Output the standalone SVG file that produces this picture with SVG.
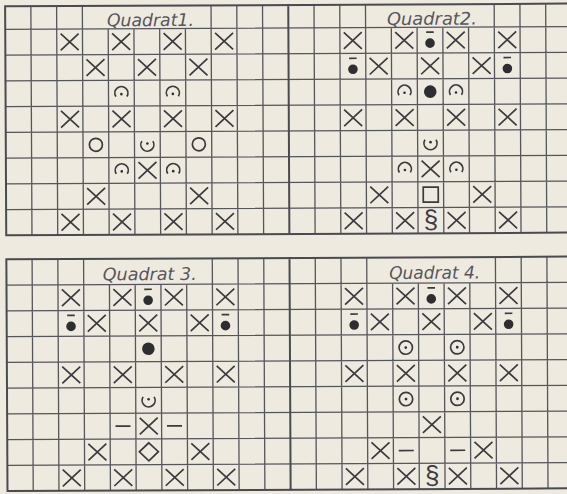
<svg xmlns="http://www.w3.org/2000/svg" width="567" height="494" viewBox="0 0 567 494">
<style>
.grid{fill:none;stroke:#55555c;stroke-width:1.3}
.bord{fill:none;stroke:#4a4a51;stroke-width:2}
.sym{fill:none;stroke:#3a3a3f;stroke-width:1.7;stroke-linecap:butt}
.fill{fill:#2e2e32;stroke:none}
.title{font-family:"Liberation Sans Narrow","DejaVu Sans Condensed","Liberation Sans",sans-serif;font-style:italic;font-size:17.5px;fill:#56565c}
.para{font-family:"Liberation Sans Narrow","Liberation Sans","DejaVu Sans",sans-serif;font-size:26px;fill:#3a3a3f;text-anchor:middle}
</style>
<defs>
<path id="x" class="sym" d="M-9,-8.3L9,8.3M-9,8.3L9,-8.3"/>
<g id="arc"><path class="sym" stroke-width="1.4" d="M-5.5,3.4A6.5,6.5 0 1 1 5.5,3.4"/><circle class="fill" cx="0" cy="1" r="1.3"/></g>
<g id="cup"><path class="sym" stroke-width="1.4" d="M-5.5,-3.4A6.5,6.5 0 1 0 5.5,-3.4"/><circle class="fill" cx="0" cy="-1" r="1.3"/></g>
<circle id="ring" class="sym" stroke-width="1.5" cx="0" cy="0" r="6.5"/>
<g id="odot"><circle class="sym" stroke-width="1.5" cx="0" cy="0" r="6.7"/><circle class="fill" cx="0" cy="0" r="1.4"/></g>
<g id="bardot"><path class="sym" stroke-width="1.8" d="M-3.8,-8H3.8"/><circle class="fill" cx="0" cy="3" r="4.8"/></g>
<circle id="bigdot" class="fill" cx="0" cy="0" r="6.3"/>
<rect id="square" class="sym" x="-7.5" y="-7.5" width="15" height="15"/>
<path id="diamond" class="sym" d="M0,-9L9.5,0L0,9L-9.5,0Z"/>
<path id="dash" class="sym" stroke-width="1.8" d="M-7.5,0H7.5"/>
</defs>
<rect width="567" height="494" fill="#eeeadf"/>
<g transform="rotate(-0.28 283 247)">
<g id="grid">
<path class="grid" d="M6.3 28H580M6.3 53.75H580M6.3 79.5H580M6.3 105.25H580M6.3 131H580M6.3 156.75H580M6.3 182.5H580M6.3 208.25H580
M6.3 283.75H580M6.3 309.5H580M6.3 335.25H580M6.3 361H580M6.3 386.75H580M6.3 412.5H580M6.3 438.25H580M6.3 464H580
M32.04 5V234M57.78 5V234M83.52 5V234M212.22 5V234M237.96 5V234M263.7 5V234M315.18 5V234M340.92 5V234M366.66 5V234M495.36 5V234M521.1 5V234M546.84 5V234
M109.26 28V234M135 28V234M160.74 28V234M186.48 28V234M392.4 28V234M418.14 28V234M443.88 28V234M469.62 28V234
M32.04 258V489.75M57.78 258V489.75M83.52 258V489.75M212.22 258V489.75M237.96 258V489.75M263.7 258V489.75M315.18 258V489.75M340.92 258V489.75M366.66 258V489.75M495.36 258V489.75M521.1 258V489.75M546.84 258V489.75
M109.26 283.75V489.75M135 283.75V489.75M160.74 283.75V489.75M186.48 283.75V489.75M392.4 283.75V489.75M418.14 283.75V489.75M443.88 283.75V489.75M469.62 283.75V489.75"/>
<path class="bord" d="M6.3 5H580M6.3 234H580M6.3 258H580M6.3 489.75H580M6.3 4V235M289.44 4V235M6.3 257V490.75M289.44 257V490.75"/>
</g>
<g id="quadrat1">
<text class="title" x="108" y="25.5" textLength="87" lengthAdjust="spacingAndGlyphs">Quadrat1.</text>
<use href="#x" x="70.65" y="40.875"/><use href="#x" x="122.13" y="40.875"/><use href="#x" x="173.61" y="40.875"/><use href="#x" x="225.09" y="40.875"/>
<use href="#x" x="96.39" y="66.625"/><use href="#x" x="147.87" y="66.625"/><use href="#x" x="199.35" y="66.625"/>
<use href="#arc" x="122.13" y="92.375"/><use href="#arc" x="173.61" y="92.375"/>
<use href="#x" x="70.65" y="118.125"/><use href="#x" x="122.13" y="118.125"/><use href="#x" x="173.61" y="118.125"/><use href="#x" x="225.09" y="118.125"/>
<use href="#ring" x="96.39" y="143.875"/><use href="#cup" x="147.87" y="143.875"/><use href="#ring" x="199.35" y="143.875"/>
<use href="#arc" x="122.13" y="169.625"/><use href="#x" x="147.87" y="169.625"/><use href="#arc" x="173.61" y="169.625"/>
<use href="#x" x="96.39" y="195.375"/><use href="#x" x="199.35" y="195.375"/>
<use href="#x" x="70.65" y="221.125"/><use href="#x" x="122.13" y="221.125"/><use href="#x" x="173.61" y="221.125"/><use href="#x" x="225.09" y="221.125"/>
</g>
<g id="quadrat2">
<text class="title" x="388" y="25.5" textLength="90" lengthAdjust="spacingAndGlyphs">Quadrat2.</text>
<use href="#x" x="353.79" y="40.875"/><use href="#x" x="405.27" y="40.875"/><use href="#bardot" x="431.01" y="40.875"/><use href="#x" x="456.75" y="40.875"/><use href="#x" x="508.23" y="40.875"/>
<use href="#bardot" x="353.79" y="66.625"/><use href="#x" x="379.53" y="66.625"/><use href="#x" x="431.01" y="66.625"/><use href="#x" x="482.49" y="66.625"/><use href="#bardot" x="508.23" y="66.625"/>
<use href="#arc" x="405.27" y="92.375"/><use href="#bigdot" x="431.01" y="92.375"/><use href="#arc" x="456.75" y="92.375"/>
<use href="#x" x="353.79" y="118.125"/><use href="#x" x="405.27" y="118.125"/><use href="#x" x="456.75" y="118.125"/><use href="#x" x="508.23" y="118.125"/>
<use href="#cup" x="431.01" y="143.875"/>
<use href="#arc" x="405.27" y="169.625"/><use href="#x" x="431.01" y="169.625"/><use href="#arc" x="456.75" y="169.625"/>
<use href="#x" x="379.53" y="195.375"/><use href="#square" x="431.01" y="195.375"/><use href="#x" x="482.49" y="195.375"/>
<use href="#x" x="353.79" y="221.125"/><use href="#x" x="405.27" y="221.125"/><text class="para" x="431.01" y="229">§</text><use href="#x" x="456.75" y="221.125"/><use href="#x" x="508.23" y="221.125"/>
</g>
<g id="quadrat3">
<text class="title" x="102.6" y="279.5" textLength="94" lengthAdjust="spacingAndGlyphs">Quadrat 3.</text>
<use href="#x" x="70.65" y="296.625"/><use href="#x" x="122.13" y="296.625"/><use href="#bardot" x="147.87" y="296.625"/><use href="#x" x="173.61" y="296.625"/><use href="#x" x="225.09" y="296.625"/>
<use href="#bardot" x="70.65" y="322.375"/><use href="#x" x="96.39" y="322.375"/><use href="#x" x="147.87" y="322.375"/><use href="#x" x="199.35" y="322.375"/><use href="#bardot" x="225.09" y="322.375"/>
<use href="#bigdot" x="147.87" y="348.125"/>
<use href="#x" x="70.65" y="373.875"/><use href="#x" x="122.13" y="373.875"/><use href="#x" x="173.61" y="373.875"/><use href="#x" x="225.09" y="373.875"/>
<use href="#cup" x="147.87" y="399.625"/>
<use href="#dash" x="122.13" y="425.375"/><use href="#x" x="147.87" y="425.375"/><use href="#dash" x="173.61" y="425.375"/>
<use href="#x" x="96.39" y="451.125"/><use href="#diamond" x="147.87" y="451.125"/><use href="#x" x="199.35" y="451.125"/>
<use href="#x" x="70.65" y="476.875"/><use href="#x" x="122.13" y="476.875"/><use href="#x" x="173.61" y="476.875"/><use href="#x" x="225.09" y="476.875"/>
</g>
<g id="quadrat4">
<text class="title" x="389" y="279.5" textLength="91" lengthAdjust="spacingAndGlyphs">Quadrat 4.</text>
<use href="#x" x="353.79" y="296.625"/><use href="#x" x="405.27" y="296.625"/><use href="#bardot" x="431.01" y="296.625"/><use href="#x" x="456.75" y="296.625"/><use href="#x" x="508.23" y="296.625"/>
<use href="#bardot" x="353.79" y="322.375"/><use href="#x" x="379.53" y="322.375"/><use href="#x" x="431.01" y="322.375"/><use href="#x" x="482.49" y="322.375"/><use href="#bardot" x="508.23" y="322.375"/>
<use href="#odot" x="405.27" y="348.125"/><use href="#odot" x="456.75" y="348.125"/>
<use href="#x" x="353.79" y="373.875"/><use href="#x" x="405.27" y="373.875"/><use href="#x" x="456.75" y="373.875"/><use href="#x" x="508.23" y="373.875"/>
<use href="#odot" x="405.27" y="399.625"/><use href="#odot" x="456.75" y="399.625"/>
<use href="#x" x="431.01" y="425.375"/>
<use href="#x" x="379.53" y="451.125"/><use href="#dash" x="405.27" y="451.125"/><use href="#dash" x="456.75" y="451.125"/><use href="#x" x="482.49" y="451.125"/>
<use href="#x" x="353.79" y="476.875"/><use href="#x" x="405.27" y="476.875"/><text class="para" x="431.01" y="484.7">§</text><use href="#x" x="456.75" y="476.875"/><use href="#x" x="508.23" y="476.875"/>
</g>
</g>
</svg>
